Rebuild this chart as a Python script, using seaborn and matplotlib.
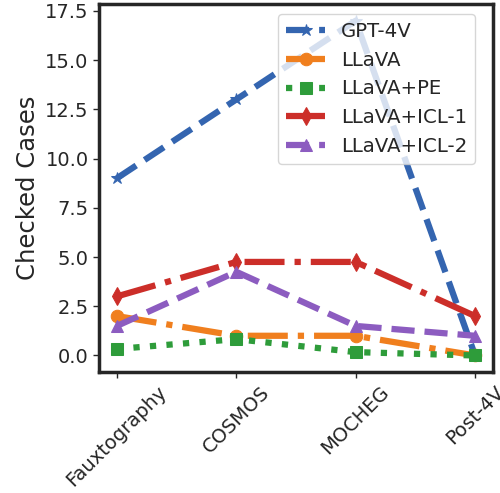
import matplotlib
matplotlib.use("Agg")
import matplotlib.pyplot as plt
import seaborn as sns
import pandas as pd

datasets = ["Fauxtography", "COSMOS", "MOCHEG", "Post-4V"]
gpt4v = [9, 13, 17, 0]
llava = [2, 1, 1, 0]
llava_pe = [0.33, 0.83, 0.17, 0]
llava_icl1 = [3, 4.75, 4.75, 2]
llava_icl2 = [1.5, 4.25, 1.5, 1]

series = [
    ("GPT-4V", gpt4v, "#3465b0", "*", "--"),
    ("LLaVA", llava, "#f07f1e", "o", "-."),
    ("LLaVA+PE", llava_pe, "#2e9c3a", "s", ":"),
    ("LLaVA+ICL-1", llava_icl1, "#cc2e29", "d", "-."),
    ("LLaVA+ICL-2", llava_icl2, "#8c5cc0", "^", "--"),
]

sns.set_style("ticks")
plt.rcParams["font.family"] = ["DejaVu Sans"]

fig = plt.figure(figsize=(5.0, 4.93), dpi=100)
ax = fig.add_axes([0.198, 0.245, 0.788, 0.747])

for name, vals, color, marker, ls in series:
    df = pd.DataFrame({"Dataset": datasets, "Checked Cases": vals})
    sns.lineplot(data=df, x="Dataset", y="Checked Cases", ax=ax, color=color,
                 marker=marker, markersize=9, linewidth=4.5, linestyle=ls,
                 markeredgecolor=color, label=name, sort=False)

ax.set_xlabel("")
ax.set_ylabel("Checked Cases", fontsize=17.5)
ax.set_yticks([0, 2.5, 5, 7.5, 10, 12.5, 15, 17.5])
ax.set_yticklabels(["0.0", "2.5", "5.0", "7.5", "10.0", "12.5", "15.0", "17.5"])
ax.tick_params(axis="both", labelsize=14, width=1, length=4)
plt.setp(ax.get_xticklabels(), rotation=45, ha="center")
for sp in ax.spines.values():
    sp.set_linewidth(2.5)
    sp.set_visible(True)

leg = ax.legend(loc="upper right", bbox_to_anchor=(0.98, 1.0), fontsize=14.2,
                handlelength=2.0, frameon=True)
leg.get_frame().set_alpha(0.8)

fig.savefig("out.png", dpi=100)
